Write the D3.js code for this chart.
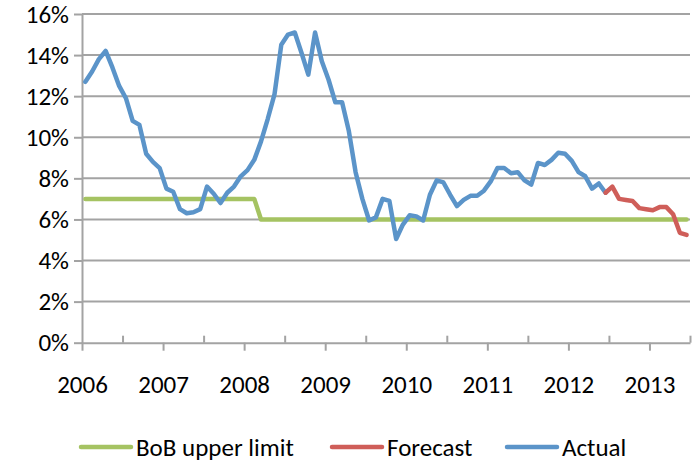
<!DOCTYPE html>
<html>
<head>
<meta charset="utf-8">
<script src="https://cdn.jsdelivr.net/npm/d3@7"></script>
<style>
    body { margin: 0; background: #fff; }
    text { font-family: Carlito, Calibri, Lato, sans-serif; fill: #000; }
</style>
</head>
<body>
<div id="chart"></div>
<script>
// Monthly inflation, Jan 2006 .. Jun 2013 (90 months)
const monthCount = 90;
const yearLabels = ['2006', '2007', '2008', '2009', '2010', '2011', '2012', '2013'];
const yTicks = [0, 2, 4, 6, 8, 10, 12, 14, 16];

// Actual: Jan 2006 .. Jun 2012
const actual = [
    12.7, 13.2, 13.8, 14.2, 13.4, 12.5, 11.9, 10.8, 10.6, 9.2, 8.8, 8.5,
    7.5, 7.35, 6.5, 6.3, 6.35, 6.5, 7.6, 7.25, 6.8, 7.3, 7.6, 8.1,
    8.4, 8.9, 9.8, 10.9, 12.1, 14.5, 15.0, 15.1, 14.1, 13.05, 15.1, 13.7,
    12.8, 11.7, 11.7, 10.3, 8.3, 7.0, 5.95, 6.1, 7.0, 6.9, 5.05, 5.75,
    6.2, 6.15, 5.95, 7.2, 7.9, 7.8, 7.2, 6.65, 6.95, 7.15, 7.15, 7.4,
    7.85, 8.5, 8.5, 8.25, 8.3, 7.9, 7.7, 8.75, 8.65, 8.9, 9.25, 9.2,
    8.85, 8.3, 8.1, 7.5, 7.75, 7.3
];

// Forecast: Jun 2012 .. Jun 2013
const forecastStart = 77;
const forecast = [7.3, 7.6, 7.0, 6.95, 6.9, 6.55, 6.5, 6.45, 6.6, 6.6, 6.25, 5.35, 5.25];

// BoB upper limit, Jan 2006 .. Jun 2013
const bobLimit = [
    7, 7, 7, 7, 7, 7, 7, 7, 7, 7, 7, 7,
    7, 7, 7, 7, 7, 7, 7, 7, 7, 7, 7, 7,
    7, 7, 6, 6, 6, 6, 6, 6, 6, 6, 6, 6,
    6, 6, 6, 6, 6, 6, 6, 6, 6, 6, 6, 6,
    6, 6, 6, 6, 6, 6, 6, 6, 6, 6, 6, 6,
    6, 6, 6, 6, 6, 6, 6, 6, 6, 6, 6, 6,
    6, 6, 6, 6, 6, 6, 6, 6, 6, 6, 6, 6,
    6, 6, 6, 6, 6, 6
];

const colors = { bob: '#A5C362', forecast: '#CF5E59', actual: '#5B94C9' };
const gridColor = '#A3A3A3';
const fontSize = '25px';

const width = 699;
const height = 465;
const plot = { left: 82, right: 690, top: 14, bottom: 342.7 };

const svg = d3.select('#chart')
    .append('svg')
    .attr('width', width)
    .attr('height', height);

// Category positions (between tick marks)
const x = d3.scalePoint()
    .domain(d3.range(monthCount))
    .range([plot.left, plot.right])
    .padding(0.5);

// Month boundaries, for tick marks
const xEdge = d3.scaleLinear()
    .domain([0, monthCount])
    .range([plot.left, plot.right]);

const y = d3.scaleLinear()
    .domain([0, 16])
    .range([plot.bottom, plot.top]);

// Gridlines
svg.append('g')
    .selectAll('line')
    .data(yTicks.filter((d) => d > 0))
    .join('line')
    .attr('x1', plot.left)
    .attr('x2', plot.right)
    .attr('y1', (d) => y(d))
    .attr('y2', (d) => y(d))
    .attr('stroke', gridColor)
    .attr('stroke-width', 2);

// Y axis
const yAxis = svg.append('g')
    .attr('transform', `translate(${plot.left},0)`)
    .call(d3.axisLeft(y)
        .tickValues(yTicks)
        .tickSizeInner(8)
        .tickSizeOuter(0)
        .tickPadding(5)
        .tickFormat((d) => d + '%'));

yAxis.selectAll('line, path').attr('stroke', gridColor).attr('stroke-width', 2);
yAxis.selectAll('text').style('font-size', fontSize);

// X axis: year ticks outside with labels
const xAxis = svg.append('g')
    .attr('transform', `translate(0,${plot.bottom})`)
    .call(d3.axisBottom(xEdge)
        .tickValues(d3.range(0, monthCount, 12))
        .tickSizeInner(8)
        .tickSizeOuter(0)
        .tickPadding(25)
        .tickFormat((d, i) => yearLabels[i]));

xAxis.selectAll('line, path').attr('stroke', gridColor).attr('stroke-width', 2);
xAxis.selectAll('text').style('font-size', fontSize);

// X axis: half-year ticks inside
const xMinor = svg.append('g')
    .attr('transform', `translate(0,${plot.bottom})`)
    .call(d3.axisBottom(xEdge)
        .tickValues(d3.range(6, monthCount + 1, 12))
        .tickSizeInner(-7)
        .tickSizeOuter(0)
        .tickFormat(''));

xMinor.select('.domain').remove();
xMinor.selectAll('line').attr('stroke', gridColor).attr('stroke-width', 2);

// Series lines
const line = d3.line()
    .x((d) => x(d.i))
    .y((d) => y(d.v));

const series = [
    { key: 'bob', data: bobLimit.map((v, i) => ({ i, v })) },
    { key: 'actual', data: actual.map((v, i) => ({ i, v })) },
    { key: 'forecast', data: forecast.map((v, i) => ({ i: i + forecastStart, v })) }
];

svg.append('g')
    .selectAll('path')
    .data(series)
    .join('path')
    .attr('d', (d) => line(d.data))
    .attr('fill', 'none')
    .attr('stroke', (d) => colors[d.key])
    .attr('stroke-width', 4.5)
    .attr('stroke-linejoin', 'round')
    .attr('stroke-linecap', 'round');

// Legend
const legendItems = [
    { label: 'BoB upper limit', key: 'bob', x: 81 },
    { label: 'Forecast', key: 'forecast', x: 332 },
    { label: 'Actual', key: 'actual', x: 507 }
];

const legend = svg.append('g')
    .selectAll('g')
    .data(legendItems)
    .join('g')
    .attr('transform', (d) => `translate(${d.x},447)`);

legend.append('line')
    .attr('x1', 0)
    .attr('x2', 50)
    .attr('stroke', (d) => colors[d.key])
    .attr('stroke-width', 4.5)
    .attr('stroke-linecap', 'round');

legend.append('text')
    .attr('x', 55)
    .attr('y', 9)
    .style('font-size', fontSize)
    .text((d) => d.label);
</script>
</body>
</html>
